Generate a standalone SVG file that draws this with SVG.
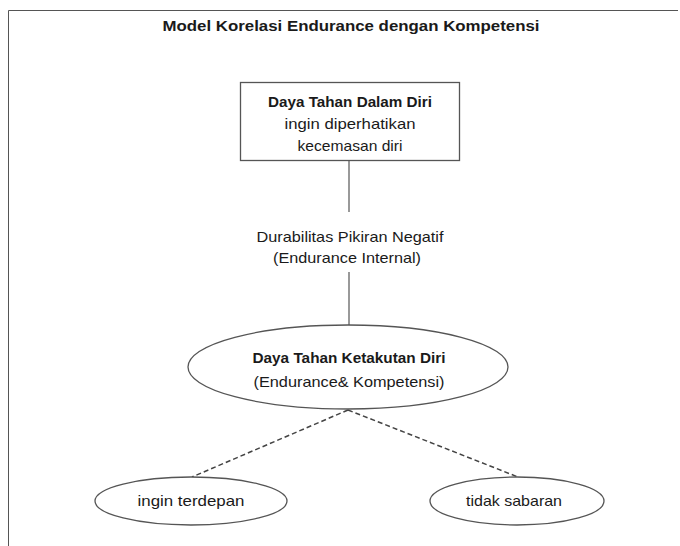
<svg xmlns="http://www.w3.org/2000/svg" width="680" height="546" viewBox="0 0 680 546">
  <style>
    text { font-family: "Liberation Sans", Arial, sans-serif; fill: #1a1a1a; font-size: 15px; text-anchor: middle; }
    .b { font-weight: bold; }
    .shape { fill: #ffffff; stroke: #555555; stroke-width: 1.3; }
    .solid { stroke: #555555; stroke-width: 1.2; fill: none; }
    .dash { stroke: #444444; stroke-width: 1.5; fill: none; stroke-dasharray: 5 3; }
  </style>
  <rect width="680" height="546" fill="#ffffff"/>
  <!-- frame -->
  <path d="M8.5 546 V10.5 H678" fill="none" stroke="#555555" stroke-width="1"/>
  <text id="title" class="b" x="351" y="31" font-size="16" textLength="377" lengthAdjust="spacingAndGlyphs">Model Korelasi Endurance dengan Kompetensi</text>

  <g id="connectors">
    <line class="solid" x1="349" y1="161" x2="349" y2="212"/>
    <line class="solid" x1="349" y1="272" x2="349" y2="325"/>
    <line class="dash" x1="348" y1="410" x2="192" y2="477"/>
    <line class="dash" x1="348" y1="410" x2="518" y2="477"/>
  </g>

  <text id="edge-label" x="350" y="242" textLength="187" lengthAdjust="spacingAndGlyphs">Durabilitas Pikiran Negatif</text>
  <text x="347" y="263" textLength="148" lengthAdjust="spacingAndGlyphs">(Endurance Internal)</text>

  <g id="node-dalam-diri">
    <rect class="shape" x="240.5" y="82.5" width="219" height="78"/>
    <text class="b" x="350" y="107" textLength="164" lengthAdjust="spacingAndGlyphs">Daya Tahan Dalam Diri</text>
    <text x="350" y="129" textLength="131" lengthAdjust="spacingAndGlyphs">ingin diperhatikan</text>
    <text x="350" y="151" textLength="105" lengthAdjust="spacingAndGlyphs">kecemasan diri</text>
  </g>

  <g id="node-ketakutan-diri">
    <ellipse class="shape" cx="348" cy="367" rx="160" ry="42"/>
    <text class="b" x="349" y="363" textLength="193" lengthAdjust="spacingAndGlyphs">Daya Tahan Ketakutan Diri</text>
    <text x="349" y="387" textLength="191" lengthAdjust="spacingAndGlyphs">(Endurance&amp; Kompetensi)</text>
  </g>

  <g id="node-ingin-terdepan">
    <ellipse class="shape" cx="191" cy="501" rx="96" ry="24"/>
    <text x="191" y="506" textLength="107" lengthAdjust="spacingAndGlyphs">ingin terdepan</text>
  </g>

  <g id="node-tidak-sabaran">
    <ellipse class="shape" cx="517" cy="501" rx="87" ry="24"/>
    <text x="514" y="506" textLength="96" lengthAdjust="spacingAndGlyphs">tidak sabaran</text>
  </g>
</svg>
